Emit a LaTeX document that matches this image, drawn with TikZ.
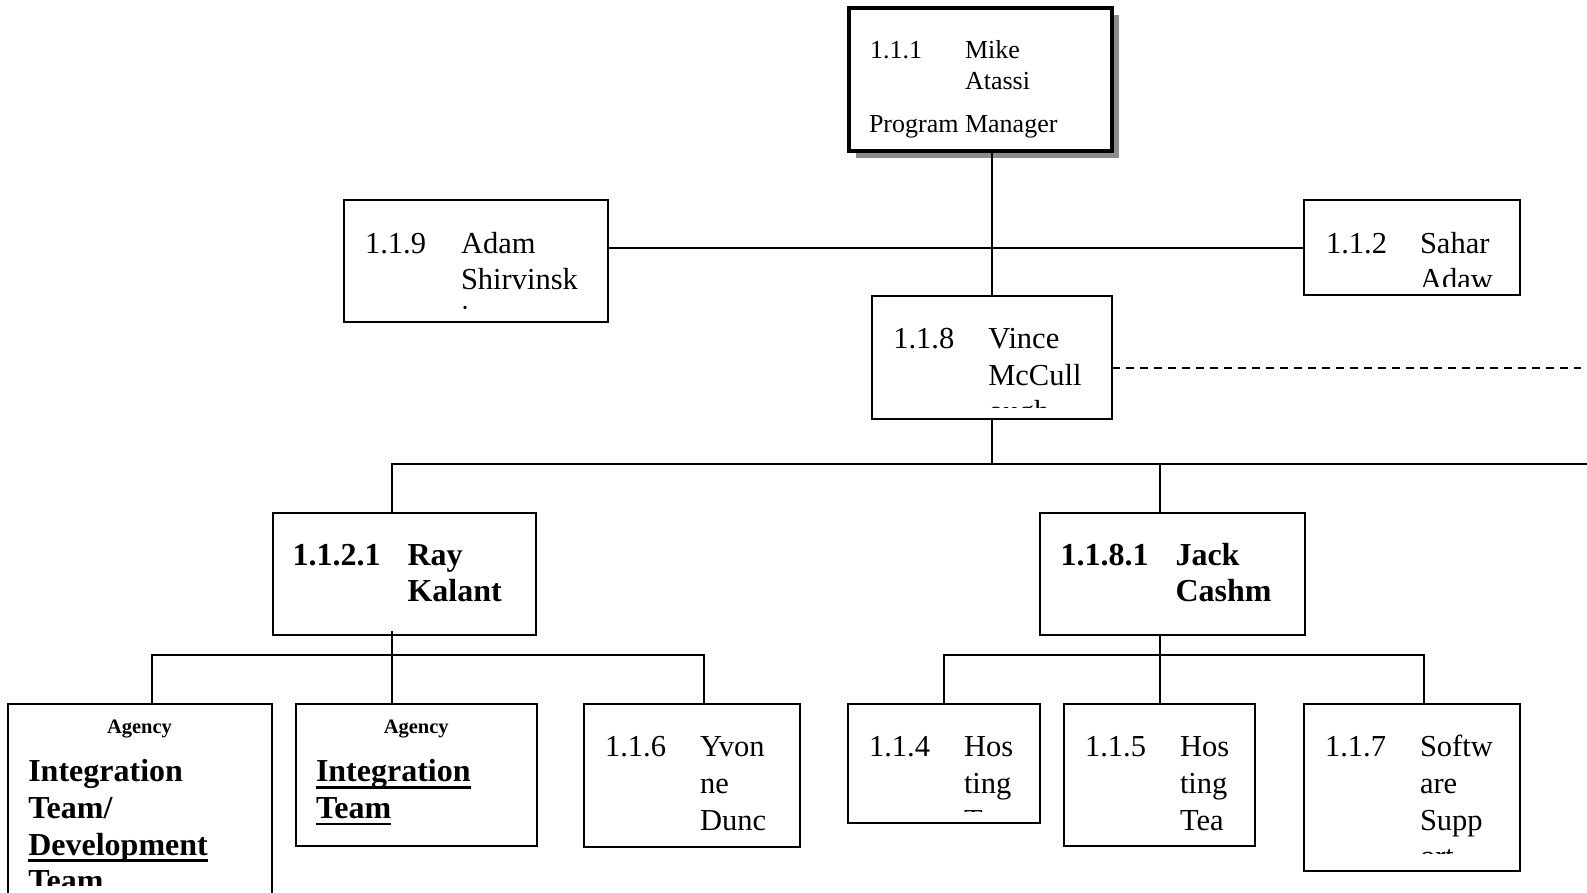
\documentclass[tikz,border=0pt]{standalone}
\usepackage{fontspec}
\setmainfont{Liberation Serif}
\usetikzlibrary{shadows}
% type sizes used in the chart
\newcommand\txtTop{\fontsize{26}{31}\selectfont}
\newcommand\txtReg{\fontsize{30.5}{36.7}\selectfont}
\newcommand\txtBold{\fontsize{32}{36.7}\selectfont\bfseries}
\newcommand\txtAg{\fontsize{20.5}{24}\selectfont\bfseries}
% heavy underline as used for the team names
\newcommand\uln[1]{\setbox0\hbox{#1}\rlap{\rule[-7pt]{\wd0}{2.6pt}}\box0}
\tikzset{
  box/.style={draw=black, fill=white, line width=2pt, inner sep=0pt, outer sep=0pt, anchor=north west},
  lbl/.style={anchor=base west, inner sep=0pt, outer sep=0pt},
  link/.style={line width=2pt, line cap=rect},
  dotted link/.style={line width=2pt, dash pattern=on 8pt off 6pt}
}
\begin{document}
\begin{tikzpicture}[x=1pt,y=-1pt]
\path[use as bounding box, clip] (0,0) rectangle (1587,893);

% ---------- boxes ----------
\node[box, line width=4pt, minimum width=263pt, minimum height=143pt,
      drop shadow={shadow xshift=7pt, shadow yshift=-7pt, fill=black!45, opacity=1}] (T) at (849,8) {};
\node[box, minimum width=264.5pt, minimum height=121.5pt] (A) at (343.5,200) {};
\node[box, minimum width=216.5pt, minimum height=95pt] (S) at (1303.5,200) {};
\node[box, minimum width=240pt, minimum height=123pt] (V) at (872,296) {};
\node[box, minimum width=263.5pt, minimum height=122pt] (R) at (272.5,512.5) {};
\node[box, minimum width=265pt, minimum height=122.5pt] (J) at (1040,512.5) {};
\node[box, minimum width=264pt, minimum height=201.5pt] (G1) at (7.5,703.5) {};
\node[box, minimum width=240.5pt, minimum height=142.5pt] (G2) at (296,703.5) {};
\node[box, minimum width=216pt, minimum height=143pt] (Y) at (583.5,703.5) {};
\node[box, minimum width=192.5pt, minimum height=119pt] (H4) at (847.5,703.5) {};
\node[box, minimum width=191.5pt, minimum height=142.5pt] (H5) at (1063.5,703.5) {};
\node[box, minimum width=216.5pt, minimum height=167.5pt] (W) at (1303.5,703.5) {};

% ---------- connector guide points ----------
\coordinate (xTop) at (992,0);
\coordinate (xR) at (391.7,0);
\coordinate (xJ) at (1160,0);
\coordinate (xG1) at (151.7,0);
\coordinate (xY) at (704,0);
\coordinate (xH4) at (944.3,0);
\coordinate (xW) at (1424.3,0);
\coordinate (eR) at (1590,0);
\coordinate (eD) at (1581,0);
\coordinate (yAS) at (0,248.5);
\coordinate (yD) at (0,367.5);
\coordinate (bus1) at (0,464);
\coordinate (bus2) at (0,655);
\coordinate (rIn) at (391.7,631.5);

% ---------- connectors ----------
\draw[link] (T.south -| xTop) -- (V.north -| xTop);
\draw[link] (A.east |- yAS) -- (S.west |- yAS);
\draw[dotted link] (V.east |- yD) -- (eD |- yD);
\draw[link] (V.south -| xTop) -- (xTop |- bus1);
\draw[link] (xR |- bus1) -- (eR |- bus1);
\draw[link] (xR |- bus1) -- (R.north -| xR);
\draw[link] (xJ |- bus1) -- (J.north -| xJ);
\draw[link] (rIn) -- (G2.north -| xR);
\draw[link] (xG1 |- bus2) -- (xY |- bus2);
\draw[link] (xG1 |- bus2) -- (G1.north -| xG1);
\draw[link] (xY |- bus2) -- (Y.north -| xY);
\draw[link] (J.south -| xJ) -- (H5.north -| xJ);
\draw[link] (xH4 |- bus2) -- (xW |- bus2);
\draw[link] (xH4 |- bus2) -- (H4.north -| xH4);
\draw[link] (xW |- bus2) -- (W.north -| xW);

% ---------- texts ----------
% 1.1.1
\node[lbl, font=\txtTop] (t1) at (870,59) {1.1.1};
\node[lbl, font=\txtTop] (t2) at (965,59) {Mike};
\node[lbl, font=\txtTop] (t3) at (965,90) {Atassi};
\node[lbl, font=\txtTop] (t4) at (869,133) {Program Manager};

% 1.1.9
\begin{scope}
\clip (345,202) rectangle (606,309);
\node[lbl, font=\txtReg] (a1) at (365,253.3) {1.1.9};
\node[lbl, font=\txtReg] (a2) at (461,253.3) {Adam};
\node[lbl, font=\txtReg] (a3) at (461,290) {Shirvinsk};
\node[lbl, font=\txtReg] (a4) at (461,326.7) {i};
\end{scope}

% 1.1.2
\begin{scope}
\clip (1305,202) rectangle (1518,287);
\node[lbl, font=\txtReg] (s1) at (1326,253.3) {1.1.2};
\node[lbl, font=\txtReg] (s2) at (1420,253.3) {Sahar};
\node[lbl, font=\txtReg] (s3) at (1420,290) {Adaw};
\end{scope}

% 1.1.8
\begin{scope}
\clip (874,298) rectangle (1110,407.5);
\node[lbl, font=\txtReg] (v1) at (893.3,348.3) {1.1.8};
\node[lbl, font=\txtReg] (v2) at (988.3,348.3) {Vince};
\node[lbl, font=\txtReg] (v3) at (988.3,385) {McCull};
\node[lbl, font=\txtReg] (v4) at (988.3,421.7) {ough};
\end{scope}

% 1.1.2.1
\node[lbl, font=\txtBold] (r1) at (292.5,565) {1.1.2.1};
\node[lbl, font=\txtBold] (r2) at (407.5,565) {Ray};
\node[lbl, font=\txtBold] (r3) at (407.5,601.7) {Kalant};

% 1.1.8.1
\node[lbl, font=\txtBold] (j1) at (1060.5,565) {1.1.8.1};
\node[lbl, font=\txtBold] (j2) at (1175.5,565) {Jack};
\node[lbl, font=\txtBold] (j3) at (1175.5,601.7) {Cashm};

% Agency: integration / development
\begin{scope}
\clip (9,705) rectangle (270,885);
\node[anchor=base, inner sep=0pt, font=\txtAg] (g1a) at (139.5,733) {Agency};
\node[lbl, font=\txtBold] (g1b) at (28.3,781.7) {Integration};
\node[lbl, font=\txtBold] (g1c) at (28.3,818.3) {Team/};
\node[lbl, font=\txtBold] (g1d) at (28.3,855) {\uln{Development}};
\node[lbl, font=\txtBold] (g1e) at (28.3,891.7) {Team};
\end{scope}

% Agency: integration
\node[anchor=base, inner sep=0pt, font=\txtAg] (g2a) at (416.2,733) {Agency};
\node[lbl, font=\txtBold] (g2b) at (316,781.7) {\uln{Integration}};
\node[lbl, font=\txtBold] (g2c) at (316,818.3) {\uln{Team}};

% 1.1.6
\node[lbl, font=\txtReg] (y1) at (605,756.7) {1.1.6};
\node[lbl, font=\txtReg] (y2) at (700,756.7) {Yvon};
\node[lbl, font=\txtReg] (y3) at (700,793.3) {ne};
\node[lbl, font=\txtReg] (y4) at (700,830) {Dunc};

% 1.1.4
\begin{scope}
\clip (849,705) rectangle (1038,811.5);
\node[lbl, font=\txtReg] (h1) at (869,756.7) {1.1.4};
\node[lbl, font=\txtReg] (h2) at (964,756.7) {Hos};
\node[lbl, font=\txtReg] (h3) at (964,793.3) {ting};
\node[lbl, font=\txtReg] (h4) at (964,830) {T};
\end{scope}

% 1.1.5
\node[lbl, font=\txtReg] (k1) at (1085,756.7) {1.1.5};
\node[lbl, font=\txtReg] (k2) at (1180,756.7) {Hos};
\node[lbl, font=\txtReg] (k3) at (1180,793.3) {ting};
\node[lbl, font=\txtReg] (k4) at (1180,830) {Tea};

% 1.1.7
\begin{scope}
\clip (1305,705) rectangle (1518,853.5);
\node[lbl, font=\txtReg] (w1) at (1325,756.7) {1.1.7};
\node[lbl, font=\txtReg] (w2) at (1420,756.7) {Softw};
\node[lbl, font=\txtReg] (w3) at (1420,793.3) {are};
\node[lbl, font=\txtReg] (w4) at (1420,830) {Supp};
\node[lbl, font=\txtReg] (w5) at (1420,866.7) {ort};
\end{scope}
\end{tikzpicture}
\end{document}
